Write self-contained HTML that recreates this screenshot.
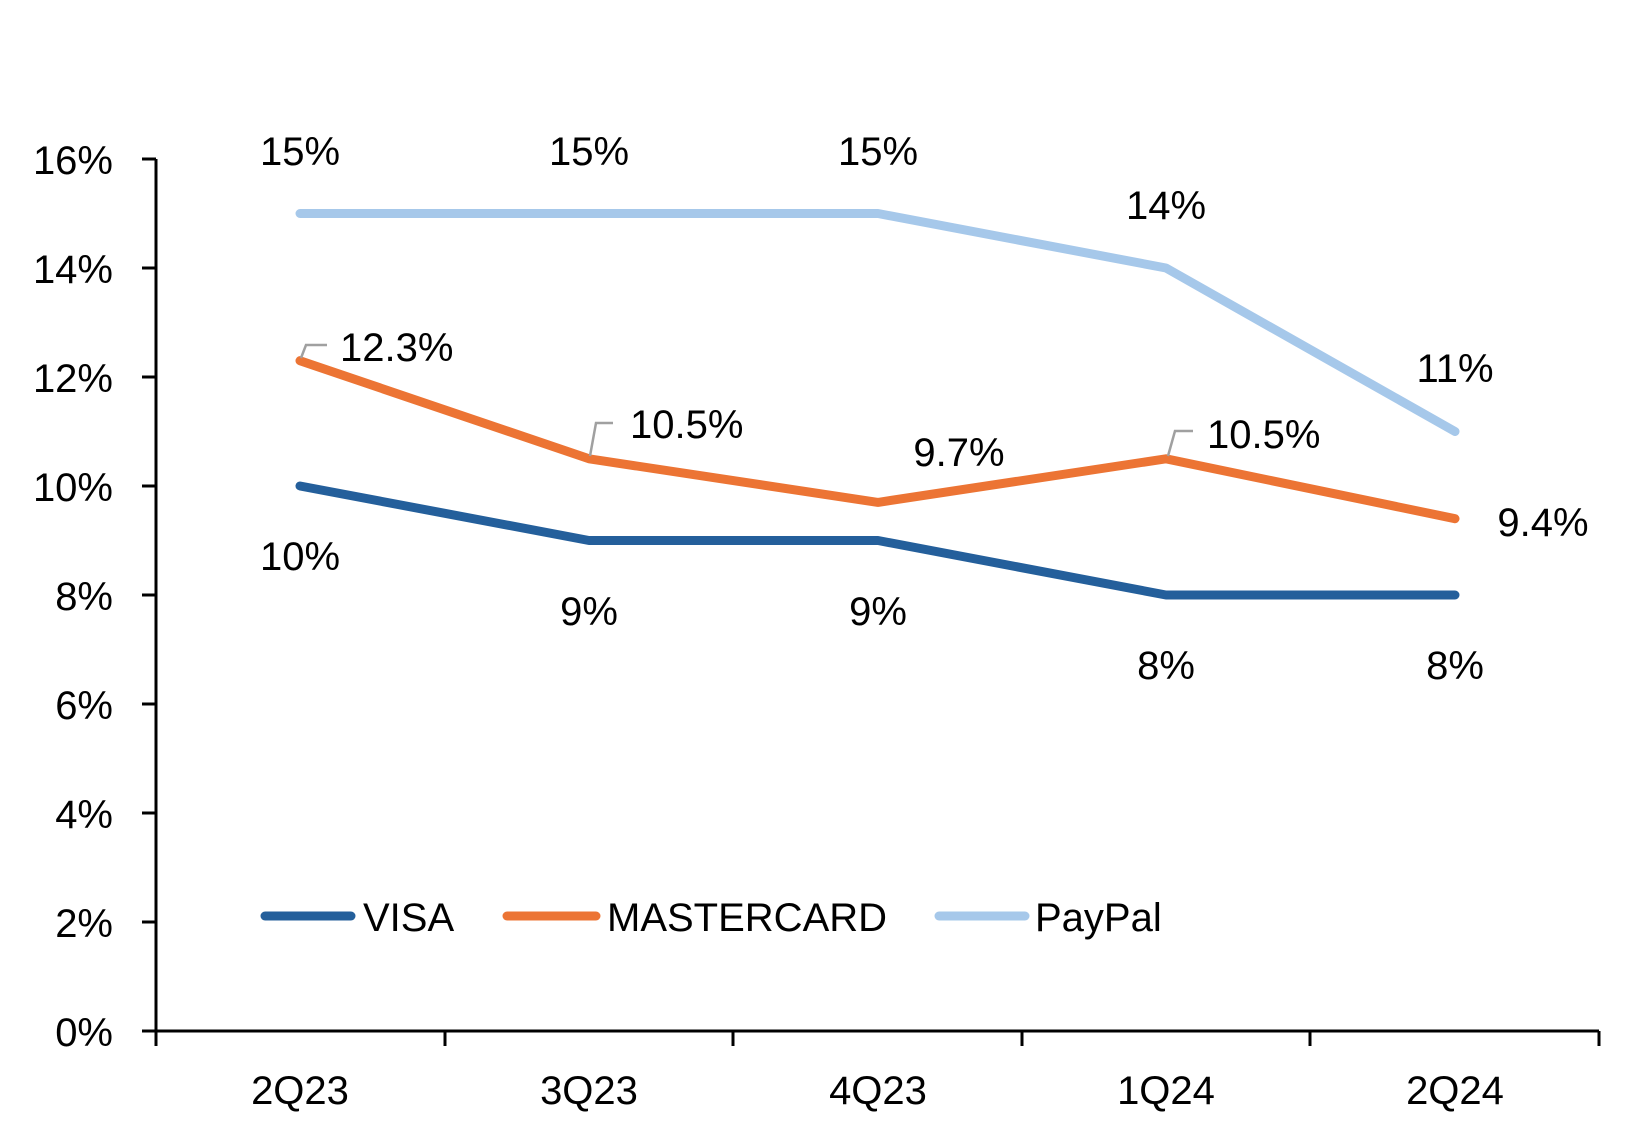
<!DOCTYPE html>
<html><head><meta charset="utf-8"><style>body{margin:0;background:#fff}svg{display:block}text{font-family:"Liberation Sans","DejaVu Sans",sans-serif;font-size:40px;fill:#000}</style></head><body>
<svg width="1650" height="1145" viewBox="0 0 1650 1145" xmlns="http://www.w3.org/2000/svg">
<g stroke="#000" stroke-width="3" fill="none">
<line x1="156" y1="159" x2="156" y2="1031"/>
<line x1="156" y1="1031" x2="1599" y2="1031"/>
<line x1="142" y1="159" x2="156" y2="159"/><line x1="142" y1="268" x2="156" y2="268"/><line x1="142" y1="377" x2="156" y2="377"/><line x1="142" y1="486" x2="156" y2="486"/><line x1="142" y1="595" x2="156" y2="595"/><line x1="142" y1="704" x2="156" y2="704"/><line x1="142" y1="813" x2="156" y2="813"/><line x1="142" y1="922" x2="156" y2="922"/><line x1="142" y1="1031" x2="156" y2="1031"/>
<line x1="156" y1="1031" x2="156" y2="1046"/><line x1="445" y1="1031" x2="445" y2="1046"/><line x1="733" y1="1031" x2="733" y2="1046"/><line x1="1022" y1="1031" x2="1022" y2="1046"/><line x1="1310" y1="1031" x2="1310" y2="1046"/><line x1="1599" y1="1031" x2="1599" y2="1046"/>
</g>
<g text-anchor="end">
<text x="113" y="174">16%</text><text x="113" y="283">14%</text><text x="113" y="392">12%</text><text x="113" y="501">10%</text><text x="113" y="610">8%</text><text x="113" y="719">6%</text><text x="113" y="828">4%</text><text x="113" y="937">2%</text><text x="113" y="1046">0%</text>
</g>
<g text-anchor="middle">
<text x="300" y="1104">2Q23</text><text x="589" y="1104">3Q23</text><text x="878" y="1104">4Q23</text><text x="1166" y="1104">1Q24</text><text x="1455" y="1104">2Q24</text>
</g>
<g fill="none" stroke-width="9" stroke-linecap="round" stroke-linejoin="round">
<polyline stroke="#a6c8ea" points="300,213.5 589,213.5 878,213.5 1166,268 1455,431.5"/>
<polyline stroke="#ec7434" points="300,360.7 589,458.8 878,502.4 1166,458.8 1455,518.7"/>
<polyline stroke="#245f9b" points="300,486 589,540.5 878,540.5 1166,595 1455,595"/>
</g>
<g fill="none" stroke="#a0a0a0" stroke-width="2.5">
<polyline points="301,358 306,345 327,345"/>
<polyline points="590,456 596,423 613,423"/>
<polyline points="1168,456 1175,431 1193,431"/>
</g>
<g text-anchor="middle">
<text x="300" y="165">15%</text><text x="589" y="165">15%</text><text x="878" y="165">15%</text><text x="1166" y="219">14%</text><text x="1455" y="382">11%</text>
<text x="959" y="466">9.7%</text><text x="1543" y="536">9.4%</text>
<text x="300" y="570">10%</text><text x="589" y="625">9%</text><text x="878" y="625">9%</text><text x="1166" y="679">8%</text><text x="1455" y="679">8%</text>
</g>
<text x="340" y="361">12.3%</text><text x="630" y="438">10.5%</text><text x="1207" y="448">10.5%</text>
<g stroke-width="9" stroke-linecap="round">
<line x1="265" y1="916" x2="351" y2="916" stroke="#245f9b"/>
<line x1="507" y1="916" x2="596" y2="916" stroke="#ec7434"/>
<line x1="939" y1="916" x2="1025" y2="916" stroke="#a6c8ea"/>
</g>
<text x="363" y="931">VISA</text><text x="607" y="931">MASTERCARD</text><text x="1035" y="931">PayPal</text>
</svg>
</body></html>
